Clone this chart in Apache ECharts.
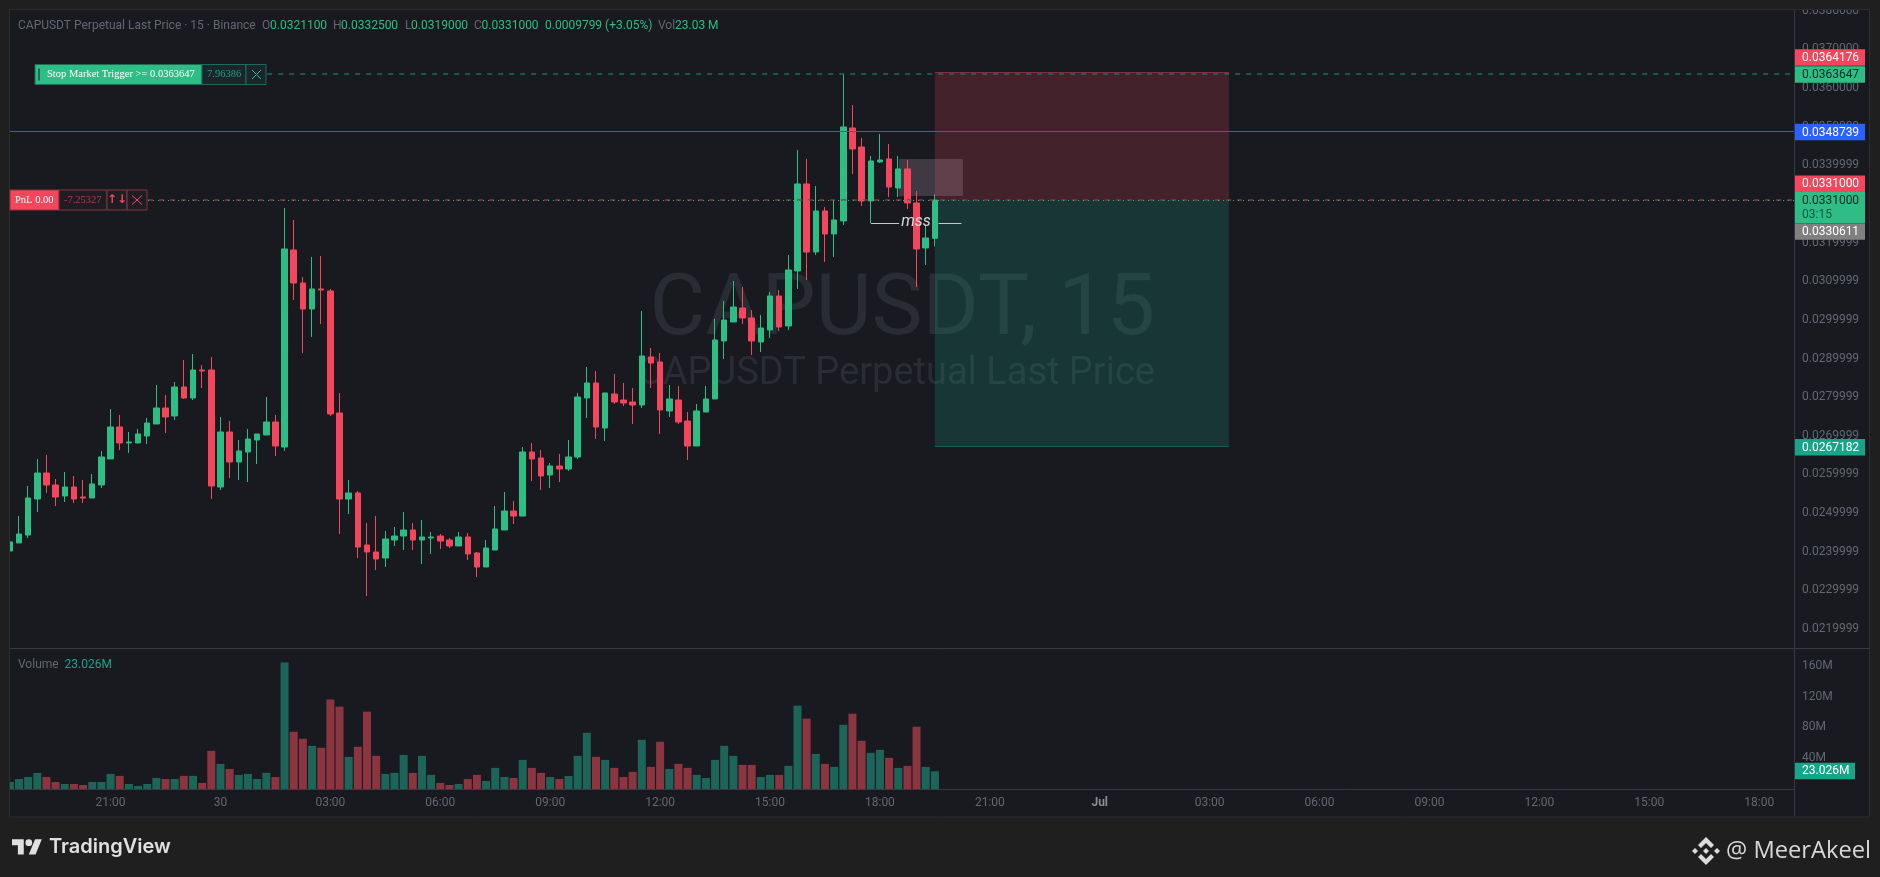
<!DOCTYPE html>
<html><head><meta charset="utf-8">
<style>html,body{margin:0;padding:0;background:#1f1f1f;overflow:hidden}#c{width:1880px;height:877px}</style>
<script src="https://cdn.jsdelivr.net/npm/echarts@6/dist/echarts.min.js"></script>
</head><body><div id="c"></div>
<script>
// bar number 0 is 21:00 on 29 Jun; bars are 15 minutes apart
const firstBar = -11;
const opens = [
0.024019,0.024226,0.024432,0.025364,0.026037,0.025727,0.025442,0.025675,0.025416,0.025390,
0.025727,0.026400,0.027228,0.026814,0.026814,0.026995,0.027306,0.027720,0.027513,0.028263,
0.027979,0.028703,0.028703,0.025675,0.027099,0.026322,0.026581,0.026891,0.027021,0.027357,
0.026710,0.031809,0.030955,0.030282,0.030800,0.030748,0.027590,0.025364,0.025520,0.024174,
0.023993,0.023837,0.024303,0.024407,0.024562,0.024303,0.024355,0.024407,0.024303,0.024148,
0.024381,0.023967,0.023604,0.024044,0.024562,0.025054,0.024924,0.026581,0.026426,0.025986,
0.026219,0.026141,0.026452,0.027979,0.028367,0.027202,0.028082,0.027927,0.027875,0.027797,
0.029040,0.028910,0.027642,0.027927,0.027383,0.026736,0.027616,0.027953,0.029454,0.029946,
0.030308,0.030049,0.029428,0.029739,0.030619,0.029842,0.031266,0.033518,0.031757,0.032819,
0.032223,0.032560,0.034967,0.034475,0.033078,0.034087,0.034165,0.033414,0.033906,0.033026,
0.031861,0.032110];
const closes = [
0.024252,0.024458,0.025390,0.026037,0.025727,0.025416,0.025675,0.025364,0.025390,0.025753,
0.026452,0.027228,0.026814,0.026840,0.027047,0.027332,0.027720,0.027487,0.028263,0.027979,
0.028703,0.028677,0.025701,0.027099,0.026322,0.026607,0.026917,0.027047,0.027357,0.026736,
0.031835,0.030955,0.030282,0.030800,0.030774,0.027564,0.025364,0.025520,0.024122,0.023993,
0.023811,0.024329,0.024407,0.024562,0.024303,0.024381,0.024381,0.024277,0.024148,0.024381,
0.023941,0.023604,0.024096,0.024588,0.025054,0.024924,0.026581,0.026400,0.025960,0.026219,
0.026141,0.026452,0.028004,0.028367,0.027228,0.028108,0.027875,0.027849,0.027797,0.029066,
0.028884,0.027668,0.027953,0.027357,0.026736,0.027642,0.027953,0.029480,0.029997,0.030334,
0.030049,0.029454,0.029790,0.030619,0.029816,0.031292,0.033518,0.031757,0.032819,0.032223,
0.032586,0.034993,0.034423,0.033078,0.034113,0.034139,0.033440,0.033906,0.033026,0.031835,
0.032120,0.033100];
const lows = [
0.024019,0.024226,0.024355,0.025028,0.025520,0.025183,0.025287,0.025261,0.025261,0.025390,
0.025649,0.026400,0.026633,0.026555,0.026814,0.026788,0.027306,0.027073,0.027409,0.027953,
0.027927,0.028237,0.025364,0.025597,0.025908,0.025856,0.025804,0.026270,0.027021,0.026477,
0.026607,0.030515,0.029143,0.029557,0.029894,0.027513,0.024458,0.024976,0.023837,0.022854,
0.023527,0.023604,0.024148,0.024044,0.024044,0.023682,0.023941,0.024070,0.024096,0.024148,
0.023785,0.023346,0.023604,0.024044,0.024562,0.024717,0.024924,0.025830,0.025597,0.025649,
0.025804,0.026089,0.026400,0.027461,0.026917,0.026866,0.027823,0.027771,0.027306,0.027720,
0.028237,0.027047,0.027487,0.027306,0.026374,0.026736,0.027616,0.027953,0.028988,0.029946,
0.029894,0.029092,0.029169,0.029532,0.029713,0.029739,0.030800,0.031033,0.031680,0.031499,
0.031628,0.032456,0.033776,0.032948,0.032508,0.034061,0.033181,0.033181,0.032870,0.030852,
0.031421,0.031900];
const highs = [
0.024252,0.024924,0.025701,0.026400,0.026503,0.025882,0.026063,0.025960,0.025856,0.026011,
0.026607,0.027694,0.027539,0.027099,0.027176,0.027461,0.028315,0.028056,0.028393,0.028962,
0.029117,0.028833,0.029040,0.027487,0.027383,0.026891,0.027176,0.027047,0.028004,0.027539,
0.032896,0.032586,0.031110,0.031628,0.031654,0.030800,0.028108,0.025856,0.025571,0.024743,
0.024924,0.024536,0.024640,0.025028,0.024743,0.024821,0.024510,0.024458,0.024355,0.024510,
0.024484,0.023993,0.024303,0.025183,0.025546,0.025313,0.026710,0.026814,0.026633,0.026296,
0.026529,0.026891,0.028108,0.028781,0.028677,0.028108,0.028600,0.028367,0.028237,0.030230,
0.029273,0.029143,0.028315,0.028289,0.027616,0.027823,0.028289,0.030023,0.030489,0.031007,
0.030852,0.030256,0.030127,0.030722,0.030774,0.031680,0.034398,0.034165,0.033466,0.032922,
0.033103,0.036365,0.035562,0.034708,0.034242,0.034812,0.034553,0.034242,0.034139,0.033336,
0.032430,0.033250];
const volumes = [
9.1,13,15.6,20.9,15.6,9.1,6.5,6.5,5.2,9.1,
9.1,19.6,17,6.5,3.9,6.5,14.3,13,13,17,
17,7.8,49.5,32.6,26,18.3,19.6,13,20.9,15.6,
164.3,74.3,65.2,56,53.5,116,106.9,41.7,54.8,100.4,
43,19.6,20.9,44.3,20.9,43,18.3,7.8,5.2,6.5,
13,18.3,10.4,27.4,15.6,14.3,37.8,27.4,20.9,15.6,
13,16.9,43,73,41.7,37.8,27.4,15.6,22.2,63.9,
28.7,61.3,26,32.6,27.4,18.3,14.3,37.8,56,43,
31.3,31.3,15.6,18.3,18.3,30,108.2,91.3,45.6,32.6,
28.7,83.4,97.8,62.6,46.9,50.8,40.4,27.4,30,80.8,
28.7,23.026];
const timeTickBars = [0,12,24,36,48,60,72,84,96,108,120,132,144,156,168,180];
const timeTickLabels = ['21:00','30','03:00','06:00','09:00','12:00','15:00','18:00','21:00','Jul','03:00','06:00','09:00','12:00','15:00','18:00'];
const priceTicks = [0.0219999,0.0229999,0.0239999,0.0249999,0.0259999,0.0269999,0.0279999,0.0289999,0.0299999,0.0309999,0.0319999,0.0329999,0.0339999,0.035,0.036,0.037,0.038];
const volumeTicks = [40,80,120,160];
const stopPrice = 0.0363647, riskTop = 0.0364176, bluePrice = 0.0348739, lastPrice = 0.0331, markPrice = 0.0330611, targetPrice = 0.0267182;
const lastVolume = 23.026;
const boxBars = [90, 122.1];
const zoneBars = [86.07, 93.06], zonePrices = [0.034165, 0.033207];
const mssBars = [[83, 86.1], [90.4, 92.9]], mssPrice = 0.03251;

const GREEN='#2EBD85', RED='#F6465D', BG='#181A20', OUT='#1F1F1F', LINE='#363A45', TXT='#636773', TEAL='#17A589';
const F='Roboto, sans-serif', SERIF='"Liberation Serif", serif';
const xMin=-10.98, xMax=183.8;
const n=opens.length;
const candle=[],vol=[];
for(let k=0;k<n;k++){
  const x=firstBar+k;
  candle.push([x,opens[k],closes[k],lows[k],highs[k]]);
  vol.push({value:[x,volumes[k]],itemStyle:{color:closes[k]>=opens[k]?'#1E6559':'#8A3540'}});
}
const chart=echarts.init(document.getElementById('c'),null,{renderer:'canvas'});
const axisLabel={color:TXT,fontFamily:F,fontSize:12};
function hline(p,x0,x1,style){return [{coord:[x0,p],lineStyle:style},{coord:[x1,p]}];}
chart.setOption({
  animation:false,backgroundColor:OUT,
  grid:[{left:10,top:10,width:1784,height:638},{left:10,top:648,width:1784,height:141}],
  xAxis:[
    {gridIndex:0,type:'value',min:xMin,max:xMax,show:false,splitLine:{show:false}},
    {gridIndex:1,type:'value',min:xMin,max:xMax,splitLine:{show:false},axisTick:{show:false},
     axisLine:{show:true,onZero:false,lineStyle:{color:LINE}},
     axisLabel:Object.assign({},axisLabel,{customValues:timeTickBars,margin:8,
       formatter:v=>{const t=timeTickLabels[timeTickBars.indexOf(v)]||'';return t==='Jul'?'{b|Jul}':t;},
       rich:{b:{color:'#8a8d97',fontWeight:'bold',fontFamily:F,fontSize:12}}})}
  ],
  yAxis:[
    {gridIndex:0,type:'value',position:'right',min:0.021508,max:0.03802,splitLine:{show:false},axisTick:{show:false},
     axisLine:{show:false,onZero:false},
     axisLabel:Object.assign({},axisLabel,{customValues:priceTicks,margin:8,formatter:v=>v.toFixed(7)})},
    {gridIndex:1,type:'value',position:'right',min:0,max:183,splitLine:{show:false},axisTick:{show:false},
     axisLine:{show:false,onZero:false},
     axisLabel:Object.assign({},axisLabel,{customValues:volumeTicks,margin:8,formatter:v=>v+'M'})}
  ],
  series:[
    {type:'candlestick',xAxisIndex:0,yAxisIndex:0,barWidth:6,clip:true,encode:{x:0,y:[1,2,3,4]},data:candle,z:3,
     itemStyle:{color:GREEN,color0:RED,borderColor:GREEN,borderColor0:RED,borderWidth:1},
     markArea:{silent:true,data:[
       [{coord:[boxBars[0],riskTop],itemStyle:{color:'rgba(246,70,93,0.2)'}},{coord:[boxBars[1],lastPrice]}],
       [{coord:[boxBars[0],lastPrice],itemStyle:{color:'rgba(20,170,140,0.2)'}},{coord:[boxBars[1],targetPrice]}],
       [{coord:[zoneBars[0],zonePrices[0]],itemStyle:{color:'rgba(200,170,185,0.22)'}},{coord:[zoneBars[1],zonePrices[1]]}]
     ]},
     markLine:{silent:true,symbol:'none',label:{show:false},data:[
       hline(bluePrice,xMin,xMax,{color:'#2E5FD8',width:1,type:'solid'}),
       hline(stopPrice,17.1,xMax,{color:'#1F6B5A',width:1.5,type:[5,6]}),
       hline(lastPrice,4.1,xMax,{color:'#8A3540',width:1.5,type:[5,6]}),
       hline(lastPrice,4.1,xMax,{color:GREEN,width:1,type:[1,4]}),
       hline(riskTop,boxBars[0],boxBars[1],{color:'rgba(246,70,93,0.35)',width:1,type:'solid'}),
       hline(targetPrice,boxBars[0],boxBars[1],{color:'rgba(23,165,137,0.45)',width:1,type:'solid'}),
       hline(mssPrice,mssBars[0][0],mssBars[0][1],{color:'#C8C8C8',width:1,type:'solid'}),
       hline(mssPrice,mssBars[1][0],mssBars[1][1],{color:'#C8C8C8',width:1,type:'solid'})
     ]}},
    {type:'bar',xAxisIndex:1,yAxisIndex:1,barWidth:8,clip:true,data:vol,z:3}
  ]
});
const py=p=>chart.convertToPixel({yAxisIndex:0},p);
const vy=v=>chart.convertToPixel({yAxisIndex:1},v);
const els=[];
const rect=(x,y,w,h,fill,stroke,z)=>els.push({type:'rect',silent:true,z:z==null?60:z,shape:{x,y,width:w,height:h},style:{fill:fill||'transparent',stroke:stroke||null,lineWidth:1}});
const text=(x,y,t,fill,font,z,align)=>els.push({type:'text',silent:true,z:z==null?61:z,x,y,style:{text:t,fill,font,textAlign:align||'left',textVerticalAlign:'middle'}});
const line=(x1,y1,x2,y2,c,w,z)=>els.push({type:'line',silent:true,z:z==null?61:z,shape:{x1,y1,x2,y2},style:{stroke:c,lineWidth:w||1}});
const poly=(pts,fill)=>els.push({type:'polygon',silent:true,z:61,shape:{points:pts},style:{fill}});
// panel
rect(9.5,9.5,1860,807.5,BG,'#2C2D30',-10);
// watermark
text(1155,312,'CAPUSDT, 15','#2A2C33','86px '+F,-5,'right');
text(1155,374,'CAPUSDT Perpetual Last Price','#2A2C33','38px '+F,-5,'right');
// frame masks
rect(0,0,1880,9,OUT,null,50);
rect(0,0,9,877,OUT,null,50);
line(9,9.5,1870,9.5,'#2C2D30',1,51);
line(9.5,9,9.5,817,'#2C2D30',1,51);
line(10,648.5,1869,648.5,LINE,1,1);
line(1794.5,10,1794.5,816,LINE,1,1);
// legend
const hf='12px '+F;
text(18,26,'CAPUSDT Perpetual Last Price · 15 · Binance',TXT,hf);
[[262,'O','0.0321100',8],[333,'H','0.0332500',8],[405,'L','0.0319000',6],[474,'C','0.0331000',7.5]].forEach(r=>{
  text(r[0],26,r[1],TXT,hf);text(r[0]+r[3],26,r[2],GREEN,hf);});
text(545,26,'0.0009799 (+3.05%)',GREEN,hf);
text(658,26,'Vol',TXT,hf);text(675,26,'23.03 M',GREEN,hf);
text(18,664.5,'Volume',TXT,hf);text(64.5,664.5,'23.026M',TEAL,hf);
// stop order label
const sy=Math.round(py(stopPrice))+.5;
rect(35,sy-10,167,20,GREEN,'#1F6B5A');
rect(38,sy-6,2,12,'#1F6B5A');
text(47,sy,'Stop Market Trigger >= 0.0363647','#FFFFFF','10.5px '+SERIF);
rect(202,sy-10,44,20,'#1A2629','#1F6B5A');
text(207,sy,'7.96386','#2A9D7F','10.5px '+SERIF);
rect(246,sy-10,20,20,'#1A2629','#1F6B5A');
line(252,sy-4.5,261,sy+4.5,GREEN,1);line(261,sy-4.5,252,sy+4.5,GREEN,1);
// PnL label
const ly=Math.round(py(lastPrice));
rect(10,ly-10,49,20,RED,'#8A3540');
text(15,ly,'PnL 0.00','#FFFFFF','10.5px '+SERIF);
rect(59,ly-10,48,20,'#1E1D24','#8A3540');
text(64,ly,'-7.25327','#B23A4D','10.5px '+SERIF);
rect(107,ly-10,20,20,'#1E1D24','#8A3540');
text(117,ly,'↑↓',RED,'bold 12px "DejaVu Sans"',61,'center');
rect(127,ly-10,20,20,'#1E1D24','#8A3540');
line(132,ly-4.5,142,ly+4.5,RED,1);line(142,ly-4.5,132,ly+4.5,RED,1);
// drawing text
text(916,222,'mss','#D8D8D8','italic 16px '+F,61,'center');
// price tags
const tag=(yc,h,bg,fg,t)=>{rect(1795,yc-h/2,70,h,bg);text(1802,yc+.5,t,fg,'12px '+F);};
tag(57.5,16.5,RED,'#FFFFFF',riskTop.toFixed(7));
tag(py(stopPrice)+.5,16.5,GREEN,'#0E2A22',stopPrice.toFixed(7));
tag(py(bluePrice)+.5,16.5,'#2962FF','#FFFFFF',bluePrice.toFixed(7));
tag(183.7,16.5,RED,'#FFFFFF',lastPrice.toFixed(7));
rect(1795,192,70,31,GREEN);text(1802,201,lastPrice.toFixed(7),'#0E2A22','12px '+F);text(1802,215,'03:15','#0E5A44','12px '+F);
tag(231.5,16.5,'#808080','#FFFFFF',markPrice.toFixed(7));
tag(py(targetPrice)+.5,16.5,TEAL,'#FFFFFF',targetPrice.toFixed(7));
rect(1795,vy(lastVolume)-8.5,60,16.5,TEAL);text(1802,vy(lastVolume),lastVolume.toFixed(3)+'M','#FFFFFF','12px '+F);
// TradingView logo
const lg=(pts)=>pts.map(p=>[12+p[0]*.84,836+p[1]*.84]);
poly(lg([[0,4],[14,4],[14,22],[7,22],[7,11],[0,11]]),'#E0E0E0');
poly(lg([[27.5,4],[35.5,4],[28,22],[20,22]]),'#E0E0E0');
els.push({type:'circle',silent:true,z:61,shape:{cx:12+20*.84,cy:836+8*.84,r:3.4},style:{fill:'#E0E0E0'}});
text(49,847,'TradingView','#E0E0E0','600 20px Inter, '+F);
// author mark
const bm=(pts)=>pts.map(p=>[1706+p[0],851+p[1]]);
poly(bm([[0,-14],[8,-6],[5,-3],[0,-8],[-5,-3],[-8,-6]]),'#DCDCDC');
poly(bm([[0,14],[8,6],[5,3],[0,8],[-5,3],[-8,6]]),'#DCDCDC');
poly(bm([[-14,0],[-11,-3],[-8,0],[-11,3]]),'#DCDCDC');
poly(bm([[14,0],[11,-3],[8,0],[11,3]]),'#DCDCDC');
poly(bm([[0,-3],[3,0],[0,3],[-3,0]]),'#DCDCDC');
text(1726,851,'@ MeerAkeel','#D8D8D8','23.7px "Open Sans"');
chart.setOption({graphic:{elements:els}});
</script></body></html>
